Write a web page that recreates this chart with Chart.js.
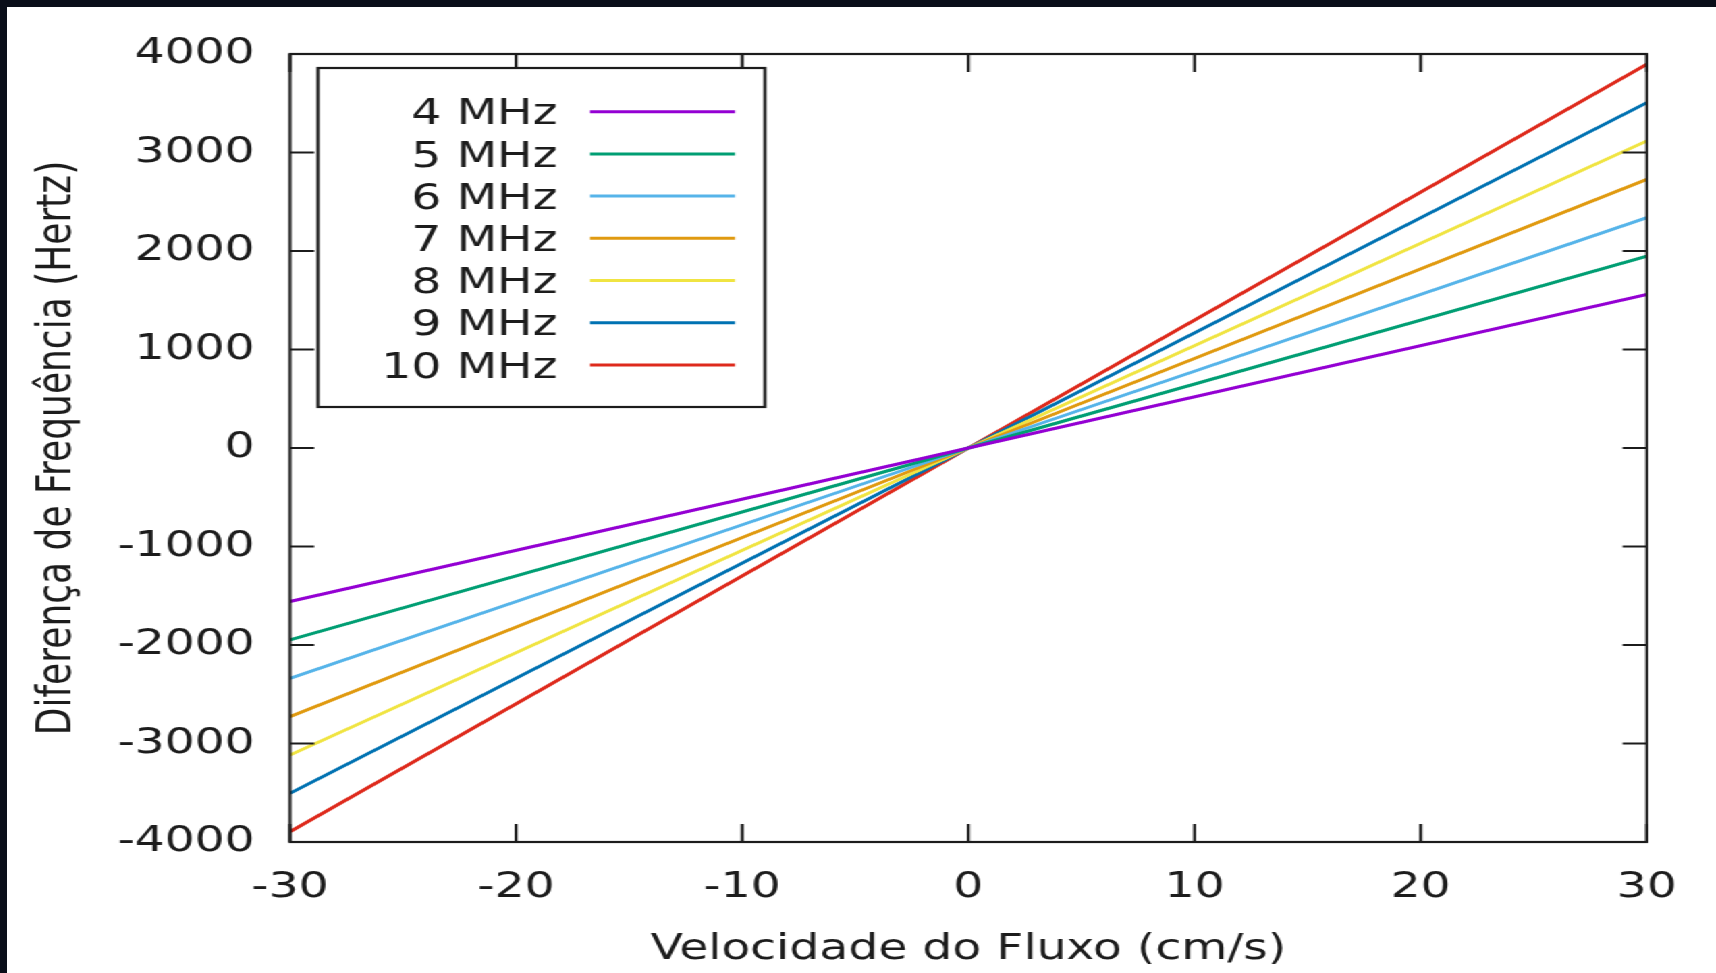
<!DOCTYPE html>
<html>
<head>
<meta charset="utf-8">
<script src="https://cdn.jsdelivr.net/npm/chart.js@4/dist/chart.umd.min.js"></script>
<style>
  html, body { margin: 0; padding: 0; background: #fff; overflow: hidden; width: 100%; height: 100%; }
  .edge { position: fixed; background: #0a0e19; z-index: 2; }
  #edgeTop { left: 0; top: 0; width: 100%; height: 7px; }
  #edgeLeft { left: 0; top: 0; width: 7px; height: 100%; }
  #wrap {
    position: absolute; left: 7px; top: 7px;
    width: 1266px; height: 966px;
    background: #fff;
    transform: scaleX(1.3499);
    transform-origin: 0 0;
  }
</style>
</head>
<body>
<div class="edge" id="edgeTop"></div>
<div class="edge" id="edgeLeft"></div>
<div id="wrap"><canvas id="dopplerChart"></canvas></div>
<script>
// velocidade do fluxo (cm/s)
const velocities = [-30, 0, 30];

// diferença de frequência (Hz) lida em -30, 0 e 30 cm/s
const f4MHz  = [-1558, 0, 1558];
const f5MHz  = [-1948, 0, 1948];
const f6MHz  = [-2338, 0, 2338];
const f7MHz  = [-2727, 0, 2727];
const f8MHz  = [-3117, 0, 3117];
const f9MHz  = [-3506, 0, 3506];
const f10MHz = [-3896, 0, 3896];

const seriesLabels = ['4 MHz', '5 MHz', '6 MHz', '7 MHz', '8 MHz', '9 MHz', '10 MHz'];
const seriesValues = [f4MHz, f5MHz, f6MHz, f7MHz, f8MHz, f9MHz, f10MHz];
const seriesColors = ['#9400d3', '#009e73', '#56b4e9', '#e09a10', '#f0e442', '#0072b2', '#de2a1c'];

const FONT = '"DejaVu Sans", Verdana, sans-serif';
const INK = '#1c1c1c';
const TICK_LEN = 18;

const datasets = seriesLabels.map((label, i) => ({
    label: label,
    data: velocities.map((v, j) => ({ x: v, y: seriesValues[i][j] })),
    borderColor: seriesColors[i],
    backgroundColor: seriesColors[i],
    borderWidth: 3,
    pointRadius: 0,
    tension: 0
}));

// gnuplot-like frame with inward ticks on all four sides, plus boxed key
const framePlugin = {
    id: 'frame',
    afterDatasetsDraw(chart) {
        const { ctx, chartArea: a, scales: { x, y } } = chart;
        ctx.save();
        ctx.strokeStyle = INK;
        ctx.lineWidth = 2.2;
        ctx.beginPath();
        x.ticks.forEach(t => {
            const px = x.getPixelForValue(t.value);
            ctx.moveTo(px, a.bottom); ctx.lineTo(px, a.bottom - TICK_LEN);
            ctx.moveTo(px, a.top); ctx.lineTo(px, a.top + TICK_LEN);
        });
        y.ticks.forEach(t => {
            const py = y.getPixelForValue(t.value);
            ctx.moveTo(a.left, py); ctx.lineTo(a.left + TICK_LEN, py);
            ctx.moveTo(a.right, py); ctx.lineTo(a.right - TICK_LEN, py);
        });
        ctx.stroke();
        ctx.strokeRect(a.left, a.top, a.right - a.left, a.bottom - a.top);

        // key
        const box = { left: 230.4, top: 61, right: 561.5, bottom: 400 };
        ctx.fillStyle = '#fff';
        ctx.fillRect(box.left, box.top, box.right - box.left, box.bottom - box.top);
        ctx.strokeRect(box.left, box.top, box.right - box.left, box.bottom - box.top);
        ctx.font = '35px ' + FONT;
        ctx.textAlign = 'right';
        ctx.textBaseline = 'alphabetic';
        chart.data.datasets.forEach((ds, i) => {
            const cy = 104.7 + i * 42.2;
            ctx.fillStyle = INK;
            ctx.fillText(ds.label, 407.8, cy + 12.6);
            ctx.strokeStyle = ds.borderColor;
            ctx.lineWidth = ds.borderWidth;
            ctx.beginPath();
            ctx.moveTo(431.9, cy);
            ctx.lineTo(539.3, cy);
            ctx.stroke();
        });
        ctx.restore();
    }
};

new Chart(document.getElementById('dopplerChart'), {
    type: 'line',
    data: { datasets: datasets },
    options: {
        responsive: true,
        maintainAspectRatio: false,
        animation: false,
        layout: { padding: { top: 43, right: 51.2, bottom: 0, left: 0 } },
        plugins: {
            legend: { display: false },
            tooltip: { enabled: false }
        },
        scales: {
            x: {
                type: 'linear',
                min: -30,
                max: 30,
                grid: { display: false, drawTicks: false },
                border: { display: false },
                ticks: {
                    stepSize: 10,
                    padding: 25,
                    color: INK,
                    font: { family: FONT, size: 35 },
                    maxRotation: 0,
                    callback: v => String(v)
                },
                title: {
                    display: true,
                    text: 'Velocidade do Fluxo (cm/s)',
                    color: INK,
                    font: { family: FONT, size: 35 },
                    padding: { top: 0, bottom: 2 }
                },
                afterFit(scale) { scale.height = 131; }
            },
            y: {
                min: -4000,
                max: 4000,
                grid: { display: false, drawTicks: false },
                border: { display: false },
                ticks: {
                    stepSize: 1000,
                    padding: 26,
                    color: INK,
                    font: { family: FONT, size: 35 },
                    callback: v => String(v)
                },
                title: {
                    display: true,
                    text: 'Diferença de Frequência (Hertz)',
                    color: INK,
                    font: { family: FONT, size: 36 },
                    padding: { top: 16, bottom: 0 }
                },
                afterFit(scale) { scale.width = 209.6; }
            }
        }
    },
    plugins: [framePlugin]
});
</script>
</body>
</html>
